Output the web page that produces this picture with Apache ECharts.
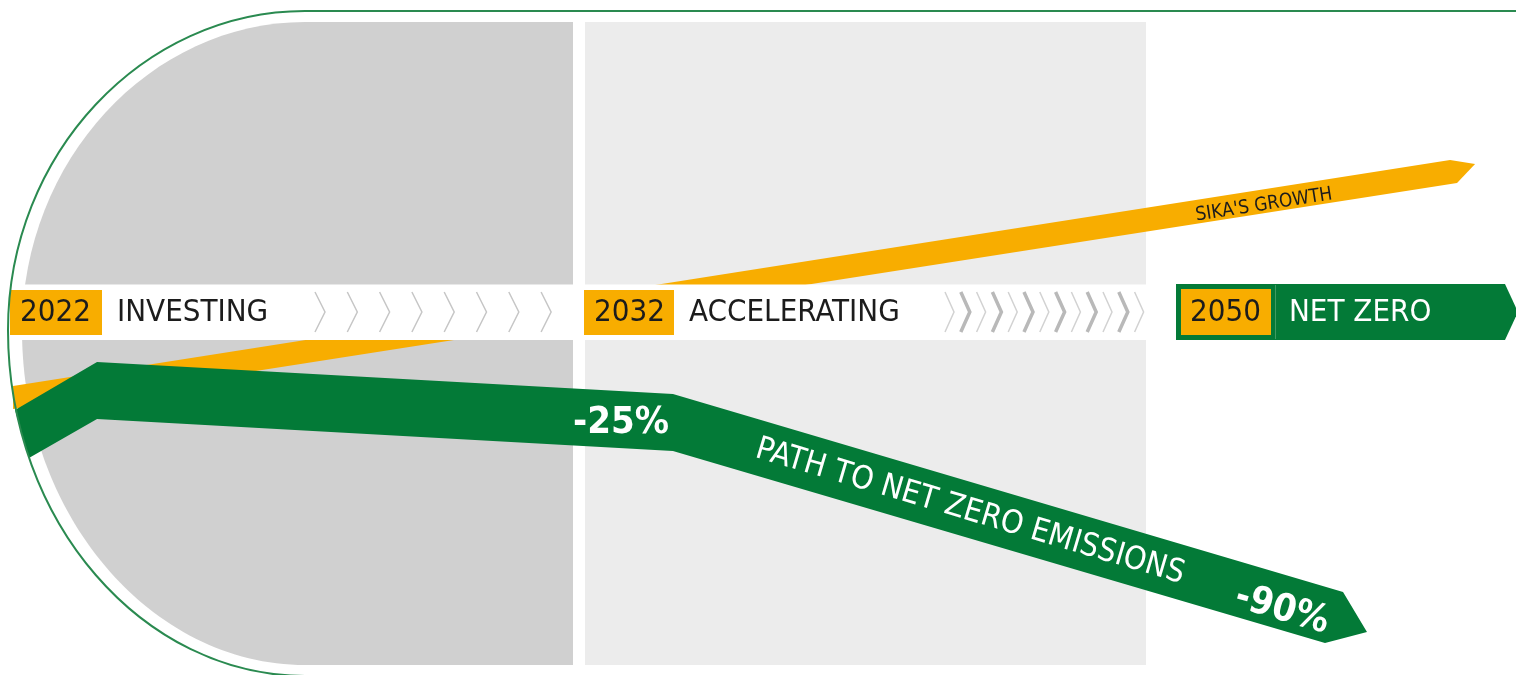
<!DOCTYPE html>
<html>
<head>
<meta charset="utf-8">
<script src="https://cdn.jsdelivr.net/npm/echarts/dist/echarts.min.js"></script>
<style>
html,body{margin:0;padding:0;background:#fff;overflow:hidden;}
#chart{width:1516px;height:675px;}
</style>
</head>
<body>
<div id="chart"></div>
<script>
// ---------------- data (schematic units: x = timeline 0..100, y = level 0..100) ----------------
const stageYears = ['2022', '2032', '2050'];
const stageNames = ['INVESTING', 'ACCELERATING', 'NET ZERO'];

// Sika's growth band (outline vertices)
const growthBandX = [0.86, 95.65, 97.30, 96.11, 0.86];
const growthBandY = [42.81, 76.30, 75.70, 72.89, 39.41];

// Path to net zero emissions band (outline vertices)
const emissionsBandX = [0.99, 6.40, 44.39, 88.59, 90.17, 87.40, 44.39, 6.40, 1.91];
const emissionsBandY = [39.26, 46.37, 41.63, 12.30, 6.37, 4.74, 33.19, 37.93, 32.15];

// milestone labels on the emissions band
const milestoneLabels = ['-25%', '-90%'];
const milestoneX = [40.96, 84.56];
const milestoneY = [37.33, 9.63];

// band titles
const emissionsTitle = 'PATH TO NET ZERO EMISSIONS';
const emissionsTitleX = 63.98, emissionsTitleY = 24.15;
const growthTitle = "SIKA'S GROWTH";
const growthTitleX = 83.38, growthTitleY = 69.63;

// ---------------- styling ----------------
const GREEN = '#037a37';
const ORANGE = '#f8ad00';
const DARK = '#1c1c1c';
const FONT = '"DejaVu Sans Condensed", "Liberation Sans Narrow", "DejaVu Sans", sans-serif';

function segAngle(xs, ys, i, j, api) {
  const a = api.coord([xs[i], ys[i]]);
  const b = api.coord([xs[j], ys[j]]);
  return Math.atan2(b[1] - a[1], b[0] - a[0]);
}

function growthRender(params, api) {
  const pts = growthBandX.map((x, i) => api.coord([x, growthBandY[i]]));
  const ang = segAngle(growthBandX, growthBandY, 0, 1, api);
  const tp = api.coord([growthTitleX, growthTitleY]);
  return {
    type: 'group',
    children: [
      { type: 'polygon', shape: { points: pts }, style: { fill: ORANGE } },
      { type: 'text', x: tp[0], y: tp[1], rotation: -ang,
        style: { text: growthTitle, fill: DARK, font: '19px ' + FONT, align: 'center', verticalAlign: 'middle' } }
    ]
  };
}

function emissionsRender(params, api) {
  const pts = emissionsBandX.map((x, i) => api.coord([x, emissionsBandY[i]]));
  const ang = segAngle(emissionsBandX, emissionsBandY, 2, 3, api);
  const children = [{ type: 'polygon', shape: { points: pts }, style: { fill: GREEN } }];
  milestoneLabels.forEach((t, i) => {
    const p = api.coord([milestoneX[i], milestoneY[i]]);
    children.push({ type: 'text', x: p[0], y: p[1], rotation: i === 0 ? 0 : -ang,
      style: { text: t, fill: '#ffffff', font: 'bold 38px ' + FONT, align: 'center', verticalAlign: 'middle' } });
  });
  const tp = api.coord([emissionsTitleX, emissionsTitleY]);
  children.push({ type: 'text', x: tp[0], y: tp[1], rotation: -ang,
    style: { text: emissionsTitle, fill: '#ffffff', font: '32px ' + FONT, align: 'center', verticalAlign: 'middle' } });
  return { type: 'group', children: children };
}

// background panels (layout, pixel space)
function panelsRender() {
  return {
    type: 'group',
    children: [
      { type: 'path', shape: { pathData: 'M573 22 L305 22 C151 22 22 160 22 330 C22 515 151 665 305 665 L573 665 Z' },
        style: { fill: '#d0d0d0' } },
      { type: 'rect', shape: { x: 585, y: 22, width: 561, height: 643 }, style: { fill: '#ececec' } }
    ]
  };
}
function outlineRender() {
  return { type: 'path', shape: { pathData: 'M1530 11 L305 11 C143 11 8 154 8 330 C8 522 143 676 305 676 L600 676' },
    style: { fill: null, stroke: '#2a8a50', lineWidth: 2 } };
}

// ---------------- decoration (layout) ----------------
const deco = [];
// timeline white band (covers growth band)
deco.push({ type: 'rect', z: 4, shape: { x: 10, y: 284.5, width: 1160, height: 55.5 }, style: { fill: '#ffffff' } });

function label(txt, x, color, size) {
  return { type: 'text', z: 6, x: x, y: 313,
    style: { text: txt, fill: color, font: size + 'px ' + FONT, align: 'left', verticalAlign: 'middle' } };
}
// stage 1
deco.push({ type: 'rect', z: 5, shape: { x: 10, y: 290, width: 92, height: 45 }, style: { fill: ORANGE } });
deco.push(label(stageYears[0], 20, DARK, 31));
deco.push(label(stageNames[0], 117, DARK, 31));
for (let i = 0; i < 8; i++) {
  const x0 = 315 + i * 32.3;
  deco.push({ type: 'polyline', z: 5, shape: { points: [[x0, 292], [x0 + 10, 312], [x0, 332]] },
    style: { stroke: '#c6c6c6', lineWidth: 1.5, fill: null } });
}
// stage 2
deco.push({ type: 'rect', z: 5, shape: { x: 584, y: 290, width: 90, height: 45 }, style: { fill: ORANGE } });
deco.push(label(stageYears[1], 594, DARK, 31));
deco.push(label(stageNames[1], 689, DARK, 31));
for (let i = 0; i < 13; i++) {
  const x0 = 945 + i * 15.8;
  const thick = i % 2 === 1;
  deco.push({ type: 'polyline', z: 5, shape: { points: [[x0, 292], [x0 + 9, 312], [x0, 332]] },
    style: { stroke: thick ? '#b9b9b9' : '#d2d2d2', lineWidth: thick ? 3.5 : 1.5, fill: null } });
}
// stage 3
deco.push({ type: 'polygon', z: 5, shape: { points: [[1176, 284], [1505, 284], [1518, 312], [1505, 340], [1176, 340]] },
  style: { fill: GREEN } });
deco.push({ type: 'rect', z: 6, shape: { x: 1181, y: 289, width: 90, height: 46 }, style: { fill: ORANGE } });
deco.push({ type: 'line', z: 6, shape: { x1: 1275.5, y1: 285, x2: 1275.5, y2: 339 }, style: { stroke: '#3f9b62', lineWidth: 1 } });
deco.push(label(stageYears[2], 1190, DARK, 31));
deco.push(label(stageNames[2], 1289, '#ffffff', 31));

const chart = echarts.init(document.getElementById('chart'), null, { renderer: 'canvas' });
chart.setOption({
  animation: false,
  backgroundColor: '#ffffff',
  grid: { left: 0, right: 0, top: 0, bottom: 0 },
  xAxis: { type: 'value', min: 0, max: 100, show: false },
  yAxis: { type: 'value', min: 0, max: 100, show: false },
  graphic: { elements: deco },
  series: [
    { type: 'custom', name: 'panels', z: 0, clip: false, renderItem: panelsRender, data: [0], silent: true },
    { type: 'custom', name: "Sika's growth", z: 2, clip: false, renderItem: growthRender, data: [0], silent: true },
    { type: 'custom', name: 'Path to net zero emissions', z: 10, clip: false, renderItem: emissionsRender, data: [0], silent: true },
    { type: 'custom', name: 'outline', z: 30, clip: false, renderItem: outlineRender, data: [0], silent: true }
  ]
});
</script>
</body>
</html>
